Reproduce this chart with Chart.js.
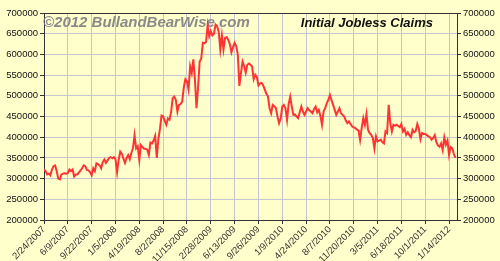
<!DOCTYPE html>
<html>
<head>
<meta charset="utf-8">
<script src="https://cdn.jsdelivr.net/npm/chart.js@4/dist/chart.umd.min.js"></script>
<style>
  html, body { margin: 0; padding: 0; background: #ffffcc; }
  #wrap { position: relative; width: 500px; height: 261px; }
</style>
</head>
<body>
<div id="wrap"><canvas id="claimsChart" width="500" height="261"></canvas></div>
<script>
// weekly initial jobless claims, first week 2/24/2007
const claims = [
  322000, 318000, 310000, 312000, 308000, 322000, 330000, 332000, 318000, 300000,
  298000, 310000, 312000, 313000, 312000, 313000, 322000, 318000, 322000, 305000,
  310000, 310000, 315000, 320000, 325000, 332000, 330000, 321000, 320000, 316000,
  308000, 325000, 318000, 337000, 335000, 332000, 325000, 340000, 346000, 338000,
  344000, 350000, 352000, 349000, 352000, 347000, 315000, 345000, 365000, 360000,
  348000, 338000, 350000, 357000, 347000, 362000, 373000, 405000, 373000, 378000,
  345000, 381000, 376000, 372000, 372000, 370000, 357000, 387000, 385000, 392000,
  403000, 350000, 395000, 420000, 452000, 450000, 440000, 430000, 445000, 442000,
  460000, 494000, 498000, 490000, 462000, 478000, 480000, 486000, 520000, 540000,
  535000, 515000, 571000, 555000, 588000, 540000, 470000, 520000, 583000, 590000,
  628000, 627000, 630000, 670000, 644000, 656000, 646000, 650000, 672000, 668000,
  655000, 612000, 646000, 612000, 640000, 642000, 635000, 625000, 605000, 618000,
  628000, 620000, 600000, 524000, 555000, 583000, 572000, 556000, 575000, 578000,
  575000, 571000, 540000, 551000, 545000, 525000, 530000, 531000, 525000, 515000,
  505000, 498000, 470000, 458000, 478000, 475000, 470000, 450000, 434000, 445000,
  474000, 478000, 470000, 442000, 480000, 498000, 474000, 454000, 455000, 450000,
  446000, 460000, 474000, 462000, 454000, 462000, 470000, 465000, 462000, 458000,
  468000, 474000, 460000, 466000, 452000, 430000, 462000, 470000, 482000, 490000,
  502000, 490000, 478000, 466000, 454000, 462000, 470000, 458000, 454000, 450000,
  440000, 434000, 438000, 432000, 426000, 424000, 422000, 418000, 416000, 393000,
  422000, 446000, 430000, 456000, 418000, 410000, 406000, 398000, 373000, 402000,
  390000, 392000, 394000, 388000, 385000, 414000, 410000, 478000, 434000, 414000,
  430000, 428000, 430000, 427000, 424000, 432000, 414000, 420000, 406000, 412000,
  405000, 400000, 418000, 412000, 415000, 432000, 420000, 395000, 410000, 408000,
  408000, 405000, 402000, 400000, 394000, 398000, 405000, 388000, 380000, 377000,
  385000, 369000, 400000, 382000, 392000, 357000, 376000, 373000, 360000, 350000
];

// one label every 15 weeks
const tickLabels = [
  '2/24/2007', '6/9/2007', '9/22/2007', '1/5/2008', '4/19/2008', '8/2/2008',
  '11/15/2008', '2/28/2009', '6/13/2009', '9/26/2009', '1/9/2010', '4/24/2010',
  '8/7/2010', '11/20/2010', '3/5/2011', '6/18/2011', '10/1/2011', '1/14/2012'
];

const yTicks = [200000, 250000, 300000, 350000, 400000, 450000, 500000, 550000, 600000, 650000, 700000];

const titleText = 'Initial Jobless Claims';
const watermarkText = '\u00A92012 BullandBearWise.com';

const gridColor = '#c6c6d2';
const axisColor = '#333333';

// background + text inside the plot
const decorPlugin = {
    id: 'decor',
    beforeDraw(chart) {
        const ctx = chart.ctx;
        ctx.save();
        ctx.fillStyle = '#ffffcc';
        ctx.fillRect(0, 0, chart.width, chart.height);
        ctx.restore();
    },
    beforeDatasetsDraw(chart) {
        const ctx = chart.ctx;
        const area = chart.chartArea;
        ctx.save();
        ctx.textBaseline = 'alphabetic';
        ctx.font = 'italic bold 15px "Liberation Sans", Arial, sans-serif';
        ctx.fillStyle = '#8a8a8a';
        ctx.textAlign = 'left';
        ctx.fillText(watermarkText, area.left - 1, 27);
        ctx.font = 'italic bold 13px "Liberation Sans", Arial, sans-serif';
        ctx.fillStyle = '#111111';
        ctx.textAlign = 'right';
        ctx.fillText(titleText, 433, 27);
        ctx.restore();
    }
};

const yScale = (pos, w) => ({
    type: 'linear',
    position: pos,
    min: yTicks[0],
    max: yTicks[yTicks.length - 1],
    afterBuildTicks: s => { s.ticks = yTicks.map(v => ({ value: v })); },
    afterFit: s => { s.width = w; },
    grid: {
        drawOnChartArea: pos === 'left',
        color: c => (c.tick && c.tick.value === 700000) ? axisColor : gridColor,
        tickColor: axisColor,
        tickLength: 4,
        lineWidth: 1
    },
    border: { color: axisColor, width: 1 },
    ticks: {
        color: '#111111',
        padding: 2,
        font: { family: '"Liberation Sans", Arial, sans-serif', size: 9.5 },
        callback: v => String(v)
    }
});

new Chart(document.getElementById('claimsChart'), {
    type: 'line',
    data: {
        datasets: [{
            label: 'Initial Jobless Claims',
            data: claims.map((v, i) => ({ x: i, y: v })),
            borderColor: '#ff3333',
            borderWidth: 2,
            pointRadius: 0,
            tension: 0,
            fill: false
        }]
    },
    options: {
        responsive: false,
        animation: false,
        devicePixelRatio: 1,
        layout: { padding: { top: 13, left: 0, right: 0, bottom: 0 } },
        plugins: {
            legend: { display: false },
            tooltip: { enabled: false },
            title: { display: false }
        },
        scales: {
            x: {
                type: 'linear',
                min: 0,
                max: 260,
                afterBuildTicks: s => { s.ticks = tickLabels.map((t, i) => ({ value: i * 15 })); },
                afterFit: s => { s.height = 41; },
                grid: { color: gridColor, tickColor: axisColor, tickLength: 4 },
                border: { color: axisColor, width: 1 },
                ticks: {
                    autoSkip: false,
                    maxRotation: 45,
                    minRotation: 45,
                    padding: 0,
                    color: '#333333',
                    font: { family: '"Liberation Sans", Arial, sans-serif', size: 9.5 },
                    callback: v => tickLabels[Math.round(v / 15)]
                }
            },
            y: yScale('left', 44),
            y2: yScale('right', 43)
        }
    },
    plugins: [decorPlugin]
});
</script>
</body>
</html>
